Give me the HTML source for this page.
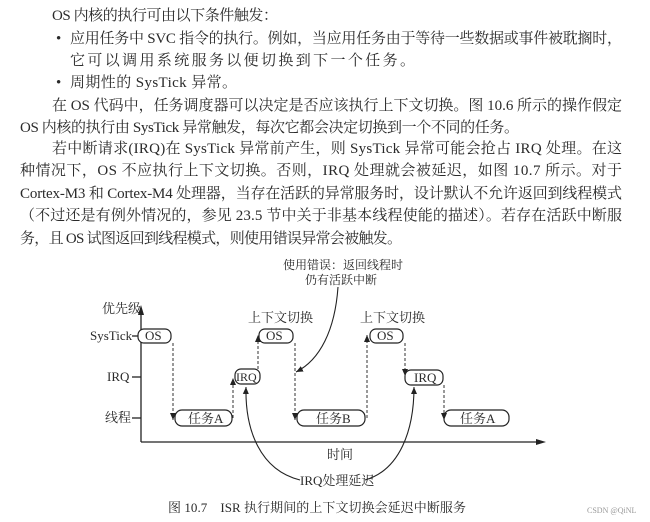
<!DOCTYPE html>
<html><head><meta charset="utf-8"><style>
html,body{margin:0;padding:0;background:#fff;width:650px;height:522px;overflow:hidden}
svg{display:block}
text{font-family:"Liberation Serif","Noto Serif CJK SC",serif;fill:#2a2a2a}
</style></head><body>
<svg width="650" height="522" viewBox="0 0 650 522" xmlns="http://www.w3.org/2000/svg">
<defs>
<marker id="ah" markerWidth="8" markerHeight="8" refX="7" refY="4" orient="auto" markerUnits="userSpaceOnUse"><path d="M0,1 L7,4 L0,7 Z" fill="#222"/></marker>
</defs>
<g font-size="15">
<text x="52" y="20" textLength="226" lengthAdjust="spacing">OS 内核的执行可由以下条件触发：</text>
<text x="56" y="43">•</text>
<text x="70" y="43" textLength="552" lengthAdjust="spacing">应用任务中 SVC 指令的执行。例如，当应用任务由于等待一些数据或事件被耽搁时，</text>
<text x="70" y="65" textLength="345" lengthAdjust="spacing">它可以调用系统服务以便切换到下一个任务。</text>
<text x="56" y="87">•</text>
<text x="70" y="87" textLength="167" lengthAdjust="spacing">周期性的 SysTick 异常。</text>
<text x="52" y="110" textLength="570" lengthAdjust="spacing">在 OS 代码中，任务调度器可以决定是否应该执行上下文切换。图 10.6 所示的操作假定</text>
<text x="20" y="132" textLength="499" lengthAdjust="spacing">OS 内核的执行由 SysTick 异常触发，每次它都会决定切换到一个不同的任务。</text>
<text x="52" y="153" textLength="570" lengthAdjust="spacing">若中断请求(IRQ)在 SysTick 异常前产生，则 SysTick 异常可能会抢占 IRQ 处理。在这</text>
<text x="20" y="175" textLength="602" lengthAdjust="spacing">种情况下，OS 不应执行上下文切换。否则，IRQ 处理就会被延迟，如图 10.7 所示。对于</text>
<text x="20" y="198" textLength="602" lengthAdjust="spacing">Cortex-M3 和 Cortex-M4 处理器，当存在活跃的异常服务时，设计默认不允许返回到线程模式</text>
<text x="20" y="220" textLength="602" lengthAdjust="spacing">（不过还是有例外情况的，参见 23.5 节中关于非基本线程使能的描述）。若存在活跃中断服</text>
<text x="20" y="243" textLength="382" lengthAdjust="spacing">务，且 OS 试图返回到线程模式，则使用错误异常会被触发。</text>
</g>
<g stroke="#222" stroke-width="1.3" fill="none">
<line x1="141" y1="442" x2="540" y2="442"/>
<line x1="141" y1="442" x2="141" y2="311"/>
<line x1="132" y1="336" x2="138" y2="336"/>
<line x1="132" y1="377" x2="141" y2="377"/>
<line x1="132" y1="418" x2="141" y2="418"/>
</g>
<path d="M138,305 L141,315 L144,305 Z" fill="#222" transform="rotate(180 141 310)"/>
<path d="M546,442 L536,439 L536,445 Z" fill="#222"/>
<g font-size="13">
<text x="102" y="313">优先级</text>
<text x="90" y="340">SysTick</text>
<text x="107" y="381">IRQ</text>
<text x="105" y="422">线程</text>
<text x="327" y="459">时间</text>
<text x="300" y="485">IRQ处理延迟</text>
<text x="248" y="322" fill="#555">上下文切换</text>
<text x="360" y="322" fill="#555">上下文切换</text>
</g>
<g font-size="12">
<text x="283" y="269">使用错误：返回线程时</text>
<text x="305" y="284">仍有活跃中断</text>
</g>
<g stroke="#222" stroke-width="1.2" fill="#fff">
<rect x="138" y="329" width="33" height="14" rx="6"/>
<rect x="175" y="410" width="57" height="16" rx="7"/>
<rect x="235" y="369" width="25" height="15" rx="6"/>
<rect x="259" y="329" width="34" height="14" rx="6"/>
<rect x="297" y="410" width="68" height="16" rx="7"/>
<rect x="370" y="329" width="33" height="14" rx="6"/>
<rect x="405" y="370" width="38" height="15" rx="6"/>
<rect x="444" y="410" width="65" height="16" rx="7"/>
</g>
<g font-size="13">
<text x="145" y="340">OS</text>
<text x="188" y="423">任务A</text>
<text x="236" y="381" font-size="12">IRQ</text>
<text x="266" y="340">OS</text>
<text x="316" y="423">任务B</text>
<text x="377" y="340">OS</text>
<text x="414" y="382">IRQ</text>
<text x="460" y="423">任务A</text>
</g>
<g stroke="#333" stroke-width="1" stroke-dasharray="3,2" fill="none" marker-end="url(#ah)">
<line x1="173" y1="343" x2="173" y2="420"/>
<line x1="233" y1="418" x2="233" y2="378"/>
<line x1="258" y1="369" x2="258" y2="335"/>
<line x1="295" y1="343" x2="295" y2="420"/>
<line x1="367" y1="418" x2="367" y2="335"/>
<line x1="405" y1="343" x2="405" y2="376"/>
<line x1="444" y1="385" x2="444" y2="420"/>
</g>
<g stroke="#222" stroke-width="1.1" fill="none" marker-end="url(#ah)">
<path d="M338,287 C335,330 320,360 296,372"/>
<path d="M300,480 C260,470 245,430 246,387"/>
<path d="M365,480 C400,470 414,430 414,387"/>
</g>
<text x="168" y="512" font-size="13" textLength="298" lengthAdjust="spacing">图 10.7　ISR 执行期间的上下文切换会延迟中断服务</text>
<text x="587" y="513" font-family="Liberation Sans,sans-serif" font-size="8" style="fill:#999">CSDN @QiNL</text>
</svg>
</body></html>
